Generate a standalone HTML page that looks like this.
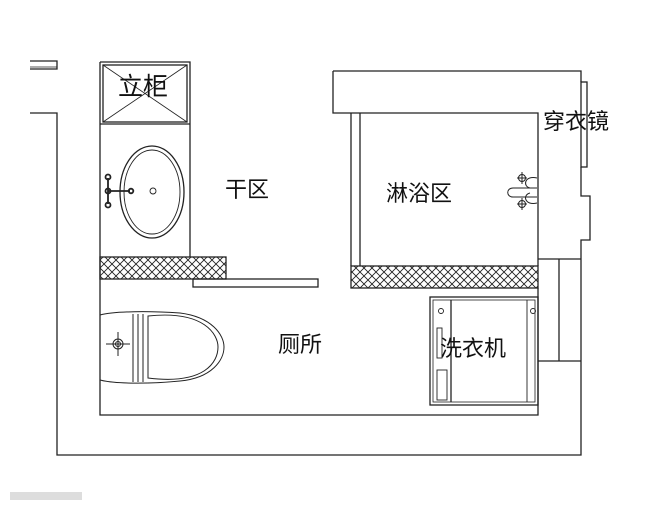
<!DOCTYPE html>
<html><head><meta charset="utf-8"><style>
html,body{margin:0;padding:0;background:#fff;}
svg{display:block}
text{font-family:"Liberation Sans","Noto Sans CJK SC",sans-serif;fill:#111;}
</style></head><body>
<svg width="672" height="513" viewBox="0 0 672 513" xmlns="http://www.w3.org/2000/svg">
<defs>
<pattern id="h" width="8" height="8" patternUnits="userSpaceOnUse">
<path d="M0,0 L8,8 M8,0 L0,8" stroke="#222" stroke-width="0.9"/>
</pattern>
</defs>
<g fill="none" stroke="#222" stroke-width="1.3">
<path d="M30,61 H57 V69 H30"/>
<line x1="30" y1="67" x2="57" y2="67" stroke-width="0.8"/>
<path d="M30,113 H57 V455 H581 V361"/>
<path d="M100,62 V415 H538 V288"/>
<path d="M100,62 H190 V257"/>
<rect x="103" y="65" width="84" height="57"/>
<line x1="103" y1="65" x2="187" y2="122" stroke-width="0.8"/>
<line x1="187" y1="65" x2="103" y2="122" stroke-width="0.8"/>
<line x1="100" y1="124" x2="190" y2="124"/>
<ellipse cx="152" cy="192" rx="32" ry="46"/>
<ellipse cx="152" cy="192" rx="28" ry="42" stroke-width="0.9"/>
<circle cx="153" cy="191" r="3" stroke-width="0.9"/>
<g stroke-width="1.8"><line x1="108" y1="191" x2="130" y2="191"/><line x1="108" y1="178" x2="108" y2="204"/>
<circle cx="108" cy="177" r="2.5"/><circle cx="108" cy="191" r="2.5"/><circle cx="108" cy="205" r="2.5"/><circle cx="131" cy="191" r="2.3"/></g>
<rect x="100" y="257" width="126" height="22" fill="url(#h)"/>
<rect x="193" y="279" width="125" height="8"/>
<path d="M333,71 H581 V82"/>
<path d="M333,71 V113 H538 V266"/>
<path d="M351,113 V266 M360,113 V266"/>
<rect x="351" y="266" width="187" height="22" fill="url(#h)"/>
<path d="M538,259 H581 M559,259 V361 M538,361 H581"/>
<path d="M581,167 V196 H590 V240 H581 V259"/>
<rect x="581" y="82" width="6" height="85"/>
<path d="M581,259 V361"/>
<g stroke-width="1">
<path d="M537,178 C525,175 522,186 530,188 M537,203 C525,206 522,195 530,193"/>
<path d="M537,188 H513 C506,188 506,197 513,197 H537"/>
<circle cx="522" cy="178" r="3.5"/><line x1="517" y1="178" x2="527" y2="178"/><line x1="522" y1="172" x2="522" y2="184"/>
<circle cx="522" cy="204" r="3.5"/><line x1="517" y1="204" x2="527" y2="204"/><line x1="522" y1="198" x2="522" y2="210"/>
</g>
<g stroke-width="1">
<path d="M100,315 C115,311 150,311 180,313 C212,317 224,335 224,347 C224,360 212,378 180,381 C150,384 115,384 100,380"/>
<path d="M133,314 V382 M138,314 V382 M143,314 V382"/>
<path d="M148,316 C205,310 218,335 218,347 C218,362 205,385 148,378 Z"/>
<circle cx="118" cy="344" r="5"/><circle cx="118" cy="344" r="2.5"/>
<line x1="106" y1="344" x2="130" y2="344"/><line x1="118" y1="332" x2="118" y2="356"/>
</g>
<rect x="430" y="297" width="108" height="108"/>
<rect x="433" y="300" width="102" height="102" stroke-width="0.8"/>
<line x1="451" y1="300" x2="451" y2="402"/>
<line x1="527" y1="300" x2="527" y2="402" stroke-width="0.9"/>
<circle cx="441" cy="311" r="2.5" stroke-width="0.9"/><circle cx="533" cy="311" r="2.5" stroke-width="0.9"/>
<rect x="437" y="328" width="5" height="30" stroke-width="0.9"/>
<rect x="437" y="370" width="10" height="30" stroke-width="0.9"/>
</g>
<text x="118" y="95" font-size="25">立柜</text>
<text x="225" y="197" font-size="22">干区</text>
<text x="386" y="201" font-size="22">淋浴区</text>
<text x="543" y="129" font-size="22">穿衣镜</text>
<text x="278" y="352" font-size="22">厕所</text>
<text x="440" y="356" font-size="22">洗衣机</text>
<rect x="10" y="492" width="72" height="8" fill="#ddd"/>
</svg>
</body></html>
